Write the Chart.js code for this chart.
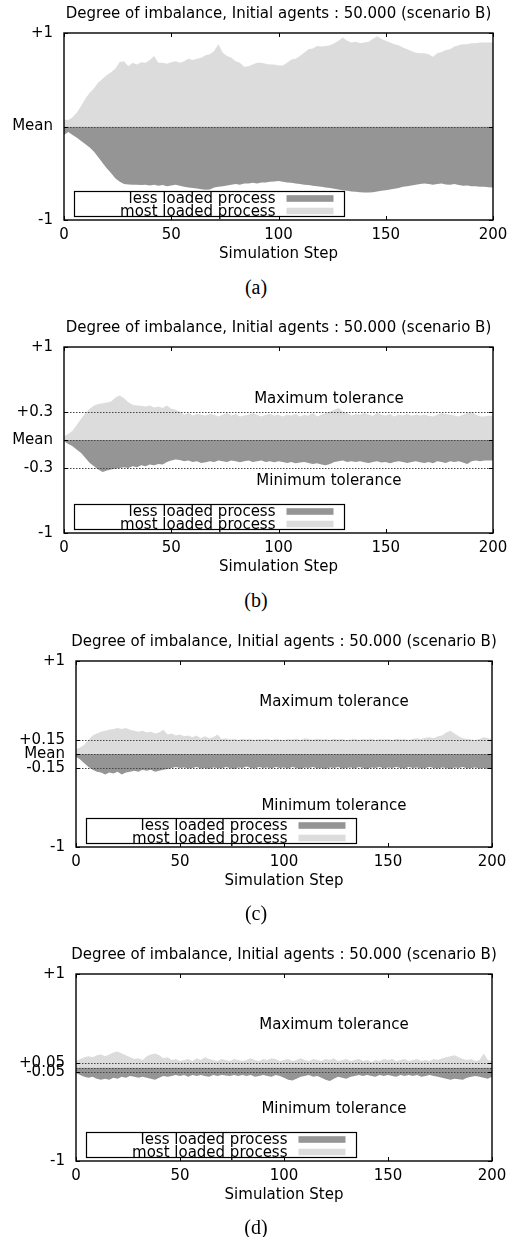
<!DOCTYPE html>
<html>
<head>
<meta charset="utf-8">
<script src="https://cdn.jsdelivr.net/npm/chart.js@4"></script>
<style>
  body { margin: 0; background: #fff; width: 510px; height: 1237px; position: relative; overflow: hidden; }
  canvas { position: absolute; left: 0; }
  .cap { position: absolute; left: 0; width: 512px; text-align: center; font-family: 'Liberation Serif', 'Times New Roman', serif; font-size: 20px; line-height: 22px; }
</style>
</head>
<body>
<canvas id="chartA" width="510" height="275" style="top:0px"></canvas>
<div class="cap" style="top:276px">(a)</div>
<canvas id="chartB" width="510" height="275" style="top:314px"></canvas>
<div class="cap" style="top:589px">(b)</div>
<canvas id="chartC" width="510" height="275" style="top:628px"></canvas>
<div class="cap" style="top:902px">(c)</div>
<canvas id="chartD" width="510" height="275" style="top:941px"></canvas>
<div class="cap" style="top:1216px">(d)</div>
<script>
// simulation steps 0..200, sampled every 2 steps
const steps = [];
for (let s = 0; s <= 200; s += 2) steps.push(s);

const titleText = 'Degree of imbalance, Initial agents : 50.000 (scenario B)';
const lessLabel = 'less loaded process';
const mostLabel = 'most loaded process';

// (a) no tolerance
const upperA = [0.075,0.07,0.1,0.15,0.22,0.3,0.36,0.41,0.47,0.51,0.55,
  0.58,0.62,0.69,0.699,0.645,0.681,0.663,0.688,0.681,0.71,
  0.754,0.681,0.681,0.67,0.688,0.699,0.681,0.699,0.725,0.71,
  0.725,0.736,0.761,0.772,0.808,0.88,0.79,0.754,0.736,0.699,
  0.681,0.638,0.645,0.663,0.681,0.681,0.67,0.663,0.663,0.652,
  0.652,0.681,0.717,0.725,0.754,0.79,0.826,0.833,0.862,0.855,
  0.862,0.87,0.891,0.917,0.953,0.917,0.899,0.906,0.891,0.899,
  0.906,0.935,0.964,0.935,0.917,0.899,0.88,0.87,0.844,0.826,
  0.808,0.79,0.783,0.783,0.772,0.746,0.783,0.797,0.819,0.826,
  0.855,0.87,0.88,0.88,0.891,0.891,0.899,0.899,0.899,0.899];
const lowerA = [-0.09,-0.06,-0.09,-0.12,-0.155,-0.19,-0.225,-0.27,-0.33,-0.39,-0.45,
  -0.5,-0.555,-0.59,-0.615,-0.62,-0.624,-0.624,-0.627,-0.624,-0.631,
  -0.624,-0.634,-0.627,-0.638,-0.631,-0.624,-0.634,-0.645,-0.652,-0.659,
  -0.663,-0.67,-0.677,-0.674,-0.652,-0.645,-0.638,-0.631,-0.624,-0.616,
  -0.624,-0.609,-0.609,-0.602,-0.609,-0.599,-0.599,-0.591,-0.588,-0.584,
  -0.591,-0.599,-0.602,-0.609,-0.616,-0.624,-0.627,-0.634,-0.638,-0.645,
  -0.652,-0.659,-0.667,-0.674,-0.681,-0.688,-0.695,-0.699,-0.703,-0.706,
  -0.706,-0.703,-0.695,-0.688,-0.681,-0.674,-0.667,-0.659,-0.645,-0.638,
  -0.631,-0.624,-0.616,-0.609,-0.616,-0.624,-0.616,-0.609,-0.62,-0.624,
  -0.616,-0.627,-0.634,-0.631,-0.638,-0.638,-0.645,-0.645,-0.649,-0.652];

// (b) tolerance 0.3
const upperB = [0.04,0.064,0.1,0.164,0.229,0.29,0.336,0.371,0.386,0.396,0.404,
  0.414,0.457,0.479,0.45,0.407,0.379,0.371,0.368,0.361,0.371,
  0.35,0.361,0.343,0.371,0.336,0.325,0.307,0.271,0.29,0.264,
  0.279,0.271,0.264,0.279,0.271,0.254,0.271,0.29,0.264,0.279,
  0.254,0.264,0.271,0.29,0.271,0.254,0.271,0.279,0.264,0.271,
  0.254,0.271,0.264,0.279,0.254,0.271,0.261,0.289,0.254,0.271,
  0.289,0.307,0.325,0.343,0.307,0.289,0.264,0.279,0.271,0.289,
  0.271,0.261,0.289,0.271,0.264,0.279,0.254,0.271,0.264,0.279,
  0.261,0.271,0.264,0.271,0.261,0.254,0.271,0.289,0.279,0.271,
  0.264,0.254,0.271,0.289,0.307,0.271,0.254,0.254,0.261,0.261];
const lowerB = [-0.014,-0.043,-0.068,-0.104,-0.139,-0.193,-0.246,-0.282,-0.318,-0.343,-0.329,
  -0.318,-0.307,-0.3,-0.293,-0.3,-0.282,-0.293,-0.271,-0.282,-0.264,
  -0.271,-0.257,-0.264,-0.236,-0.221,-0.211,-0.214,-0.229,-0.221,-0.236,
  -0.229,-0.246,-0.239,-0.229,-0.236,-0.221,-0.229,-0.236,-0.221,-0.229,
  -0.239,-0.229,-0.221,-0.236,-0.229,-0.221,-0.236,-0.229,-0.239,-0.229,
  -0.236,-0.246,-0.236,-0.25,-0.243,-0.236,-0.246,-0.257,-0.25,-0.264,
  -0.271,-0.257,-0.236,-0.229,-0.221,-0.236,-0.229,-0.236,-0.229,-0.239,
  -0.246,-0.236,-0.229,-0.243,-0.236,-0.25,-0.236,-0.229,-0.236,-0.246,
  -0.236,-0.229,-0.239,-0.246,-0.236,-0.25,-0.229,-0.236,-0.246,-0.229,
  -0.236,-0.229,-0.243,-0.257,-0.229,-0.221,-0.229,-0.221,-0.221,-0.221];

// (c) tolerance 0.15
const upperC = [0.05,0.07,0.1,0.15,0.2,0.22,0.24,0.25,0.26,0.27,0.28,
  0.27,0.28,0.26,0.25,0.24,0.25,0.23,0.24,0.22,0.23,
  0.26,0.21,0.22,0.2,0.21,0.19,0.2,0.18,0.2,0.17,
  0.19,0.17,0.18,0.21,0.16,0.17,0.155,0.16,0.15,0.165,
  0.155,0.16,0.15,0.16,0.155,0.165,0.15,0.16,0.155,0.15,
  0.16,0.155,0.165,0.15,0.17,0.16,0.155,0.165,0.155,0.16,
  0.15,0.165,0.155,0.16,0.15,0.155,0.165,0.15,0.16,0.155,
  0.165,0.15,0.16,0.155,0.16,0.15,0.165,0.155,0.16,0.15,
  0.165,0.17,0.16,0.175,0.18,0.17,0.19,0.2,0.23,0.25,
  0.22,0.19,0.17,0.16,0.155,0.15,0.16,0.18,0.17,0.16];
const lowerC = [-0.03,-0.06,-0.1,-0.14,-0.17,-0.19,-0.2,-0.22,-0.2,-0.21,-0.19,
  -0.22,-0.2,-0.19,-0.18,-0.19,-0.17,-0.18,-0.17,-0.19,-0.18,
  -0.17,-0.16,-0.15,-0.14,-0.15,-0.145,-0.155,-0.15,-0.14,-0.155,
  -0.15,-0.16,-0.145,-0.15,-0.155,-0.14,-0.15,-0.16,-0.145,-0.15,
  -0.135,-0.15,-0.155,-0.14,-0.15,-0.145,-0.155,-0.14,-0.15,-0.145,
  -0.155,-0.14,-0.15,-0.16,-0.145,-0.15,-0.14,-0.155,-0.15,-0.16,
  -0.145,-0.15,-0.14,-0.155,-0.15,-0.145,-0.155,-0.14,-0.15,-0.16,
  -0.145,-0.15,-0.14,-0.155,-0.145,-0.15,-0.14,-0.15,-0.155,-0.14,
  -0.15,-0.145,-0.155,-0.15,-0.14,-0.15,-0.155,-0.145,-0.15,-0.16,
  -0.145,-0.15,-0.14,-0.155,-0.15,-0.145,-0.155,-0.15,-0.16,-0.15];

// (d) tolerance 0.05
const upperD = [0.07,0.09,0.11,0.12,0.11,0.13,0.14,0.12,0.14,0.16,0.17,
  0.15,0.13,0.11,0.09,0.1,0.08,0.12,0.14,0.15,0.13,
  0.1,0.11,0.08,0.09,0.07,0.08,0.09,0.07,0.1,0.08,
  0.11,0.09,0.08,0.07,0.09,0.08,0.07,0.09,0.08,0.07,
  0.08,0.1,0.08,0.07,0.09,0.08,0.1,0.09,0.07,0.08,
  0.09,0.07,0.08,0.1,0.08,0.07,0.09,0.08,0.07,0.09,
  0.08,0.1,0.07,0.08,0.09,0.07,0.08,0.09,0.07,0.08,
  0.06,0.08,0.07,0.09,0.08,0.09,0.07,0.08,0.09,0.07,
  0.08,0.09,0.07,0.08,0.07,0.09,0.08,0.1,0.11,0.12,
  0.13,0.11,0.09,0.08,0.09,0.07,0.08,0.15,0.08,0.07];
const lowerD = [-0.06,-0.08,-0.1,-0.11,-0.1,-0.12,-0.13,-0.12,-0.13,-0.11,-0.12,
  -0.1,-0.11,-0.09,-0.1,-0.11,-0.1,-0.11,-0.12,-0.13,-0.11,
  -0.09,-0.1,-0.09,-0.08,-0.09,-0.08,-0.1,-0.08,-0.09,-0.08,
  -0.09,-0.1,-0.08,-0.09,-0.08,-0.085,-0.09,-0.08,-0.09,-0.08,
  -0.09,-0.08,-0.1,-0.09,-0.08,-0.09,-0.1,-0.08,-0.09,-0.11,
  -0.13,-0.14,-0.12,-0.1,-0.09,-0.08,-0.1,-0.09,-0.11,-0.13,
  -0.145,-0.12,-0.1,-0.11,-0.12,-0.1,-0.09,-0.08,-0.09,-0.08,
  -0.09,-0.1,-0.08,-0.09,-0.08,-0.09,-0.1,-0.08,-0.09,-0.08,
  -0.09,-0.08,-0.1,-0.09,-0.08,-0.09,-0.1,-0.11,-0.12,-0.13,
  -0.12,-0.125,-0.13,-0.11,-0.1,-0.09,-0.1,-0.11,-0.12,-0.1];

// y ticks and their labels
const yTicksA = [-1, 0, 1];
const yLabelsA = ['-1', 'Mean', '+1'];
const yTicksB = [-1, -0.3, 0, 0.3, 1];
const yLabelsB = ['-1', '-0.3', 'Mean', '+0.3', '+1'];
const yTicksC = [-1, -0.15, 0, 0.15, 1];
const yLabelsC = ['-1', '-0.15', 'Mean', '+0.15', '+1'];
const yTicksD = [-1, -0.05, 0.05, 1];
const yLabelsD = ['-1', '-0.05', '+0.05', '+1'];
const xTicks = [0, 50, 100, 150, 200];

const LIGHT = '#dcdcdc';
const DARK = '#959595';

Chart.defaults.font.family = "'DejaVu Sans', sans-serif";
Chart.defaults.font.size = 15;
Chart.defaults.color = '#000';

// frame, inward ticks, dotted reference lines, legend box, labels
const gnuplotLook = {
  id: 'gnuplotLook',
  afterDatasetsDraw(chart, args, opts) {
    const ctx = chart.ctx, a = chart.chartArea, y = chart.scales.y;
    ctx.save();
    ctx.strokeStyle = '#444';
    ctx.lineWidth = 1;
    ctx.setLineDash([1.5, 1.5]);
    const lines = [0];
    if (opts.tol) lines.push(opts.tol, -opts.tol);
    lines.forEach(v => {
      const py = Math.round(y.getPixelForValue(v)) + 0.5;
      ctx.beginPath(); ctx.moveTo(a.left, py); ctx.lineTo(a.right, py); ctx.stroke();
    });
    ctx.restore();
  },
  afterDraw(chart, args, opts) {
    const ctx = chart.ctx, a = chart.chartArea, x = chart.scales.x, y = chart.scales.y;
    ctx.save();
    // tolerance labels
    ctx.fillStyle = '#000';
    ctx.font = "15px 'DejaVu Sans'";
    ctx.textAlign = 'center';
    ctx.textBaseline = 'middle';
    if (opts.tol) {
      const tx = x.getPixelForValue(opts.textStep);
      ctx.fillText('Maximum tolerance', tx, y.getPixelForValue(opts.textAt));
      ctx.fillText('Minimum tolerance', tx, y.getPixelForValue(-opts.textAt));
    }
    // title
    ctx.fillText(titleText, (a.left + a.right) / 2, a.top - 19);
    // inward ticks
    ctx.strokeStyle = '#000';
    ctx.lineWidth = 1;
    xTicks.forEach(v => {
      const px = Math.round(x.getPixelForValue(v)) + 0.5;
      ctx.beginPath();
      ctx.moveTo(px, a.bottom); ctx.lineTo(px, a.bottom - 4);
      ctx.moveTo(px, a.top); ctx.lineTo(px, a.top + 4);
      ctx.stroke();
    });
    opts.yTicks.forEach(v => {
      const py = Math.round(y.getPixelForValue(v)) + 0.5;
      ctx.beginPath();
      ctx.moveTo(a.left, py); ctx.lineTo(a.left + 4, py);
      ctx.moveTo(a.right, py); ctx.lineTo(a.right - 4, py);
      ctx.stroke();
    });
    // legend box
    const bx = Math.round(a.left + 10) + 0.5, by = Math.round(a.bottom - 29) + 0.5;
    ctx.fillStyle = '#fff';
    ctx.fillRect(bx, by, 270, 25);
    ctx.lineWidth = 1.2;
    ctx.strokeRect(bx, by, 270, 25);
    const rows = [chart.data.datasets[1], chart.data.datasets[0]];
    ctx.textAlign = 'right';
    rows.forEach((ds, i) => {
      const ry = by + 7 + i * 12.5;
      ctx.fillStyle = '#000';
      ctx.fillText(ds.label, bx + 201, ry + 1);
      ctx.fillStyle = ds.backgroundColor;
      ctx.fillRect(bx + 212, ry - 3.3, 47, 6.6);
    });
    // frame
    ctx.strokeStyle = '#000';
    ctx.lineWidth = 1.4;
    ctx.strokeRect(a.left, a.top, a.right - a.left, a.bottom - a.top);
    ctx.restore();
  }
};

function makeChart(id, upper, lower, yTicks, yLabels, geo, extra) {
  const pts = vals => steps.map((s, i) => ({ x: s, y: vals[i] }));
  new Chart(document.getElementById(id), {
    type: 'line',
    data: {
      datasets: [
        { label: mostLabel, data: pts(upper), backgroundColor: LIGHT, borderColor: 'rgba(0,0,0,0)',
          borderWidth: 0, pointRadius: 0, fill: 'origin', tension: 0 },
        { label: lessLabel, data: pts(lower), backgroundColor: DARK, borderColor: 'rgba(0,0,0,0)',
          borderWidth: 0, pointRadius: 0, fill: 'origin', tension: 0 }
      ]
    },
    options: {
      responsive: false,
      animation: false,
      events: [],
      layout: { padding: { top: 33, left: 0, right: 510 - geo.right, bottom: 199 - geo.h } },
      plugins: {
        legend: { display: false },
        tooltip: { enabled: false },
        gnuplotLook: Object.assign({ yTicks: yTicks }, extra)
      },
      scales: {
        x: {
          type: 'linear', min: 0, max: 200,
          afterBuildTicks: axis => { axis.ticks = xTicks.map(v => ({ value: v })); },
          afterFit: axis => { axis.height = 43; axis.paddingLeft = 0; axis.paddingRight = 0; },
          grid: { display: false, drawTicks: false },
          border: { display: false },
          ticks: { padding: 6, maxRotation: 0, autoSkip: false },
          title: { display: true, text: 'Simulation Step', padding: 0 }
        },
        y: {
          min: -1, max: 1,
          afterBuildTicks: axis => { axis.ticks = yTicks.map(v => ({ value: v })); },
          afterFit: axis => { axis.width = geo.left; axis.paddingTop = 0; axis.paddingBottom = 0; },
          grid: { display: false, drawTicks: false },
          border: { display: false },
          ticks: { padding: 11, autoSkip: false, callback: (v, i) => yLabels[i] }
        }
      }
    },
    plugins: [gnuplotLook]
  });
}

makeChart('chartA', upperA, lowerA, yTicksA, yLabelsA, { left: 64, right: 493, h: 187 }, {});
makeChart('chartB', upperB, lowerB, yTicksB, yLabelsB, { left: 64, right: 493, h: 186 },
  { tol: 0.3, textAt: 0.44, textStep: 123.5 });
makeChart('chartC', upperC, lowerC, yTicksC, yLabelsC, { left: 76, right: 492, h: 186 },
  { tol: 0.15, textAt: 0.557, textStep: 124 });
makeChart('chartD', upperD, lowerD, yTicksD, yLabelsD, { left: 76, right: 492, h: 187 },
  { tol: 0.05, textAt: 0.45, textStep: 124 });
</script>
</body>
</html>
